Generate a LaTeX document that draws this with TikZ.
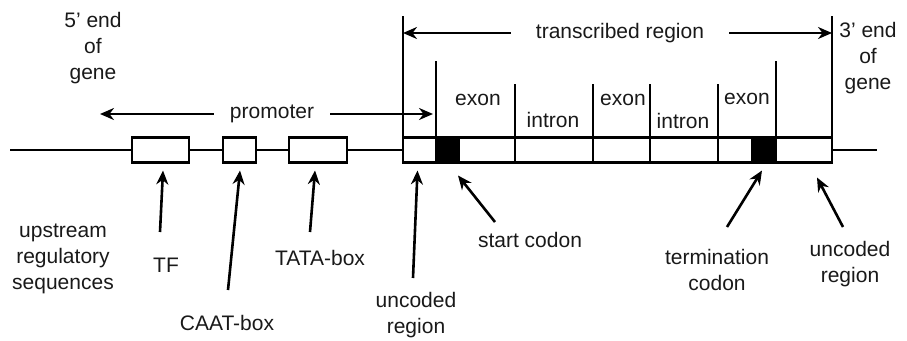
\documentclass[tikz,border=0pt]{standalone}
\usepackage{fontspec}
\setmainfont{Liberation Sans}
\usepackage{tikz}
\usetikzlibrary{arrows.meta, positioning}
\tikzstyle{element} = [rectangle, draw=black, fill=white, line width=2.4pt, minimum height=25pt, inner sep=0pt, outer sep=0pt]
\tikzstyle{txt} = [align=center, inner sep=0pt, text=black!90]
\tikzstyle{strand} = [line width=2.4pt]
\tikzstyle{pointer} = [line width=2.6pt, -{Stealth[length=14pt,width=12pt]}]

\begin{document}
\begin{tikzpicture}[x=1pt, y=-1pt, font=\fontsize{21}{26}\selectfont]
        \useasboundingbox (0,0) rectangle (907,340);

        % DNA strand
        \coordinate (strandleft) at (10,150);
        \coordinate (strandright) at (877,150);
        \draw [strand] (strandleft) -- (strandright);

        % promoter elements
        \node (tfbox) [element, minimum width=57pt] at (160.5,150) {};
        \node (caatbox) [element, minimum width=33pt] at (239.5,150) {};
        \node (tatabox) [element, minimum width=58pt] at (318,150) {};

        % transcribed region
        \foreach \n/\xa/\xb/\c in {u1/403/436/white, start/436/459/black, e1/459/515/white,
                i1/515/593/white, e2/593/650/white, i2/650/718/white, e3/718/752/white,
                stop/752/776/black, u2/776/832/white}
            \node (\n) [element, fill=\c, minimum width={(\xb-\xa)*1pt}] at ({(\xa+\xb)/2},150) {};

        \foreach \p/\h in {u1.north west/122, start.north west/77, i1.north west/54,
                e2.north west/54, i2.north west/54, e3.north west/54, u2.north west/77, u2.north east/122}
            \draw [strand] (\p) -- ++(0,-\h);

        \node (exon1) [txt] at (478,100) {exon};
        \node (intron1) [txt] at (553,120) {intron};
        \node (exon2) [txt] at (623,100) {exon};
        \node (intron2) [txt] at (683,121) {intron};
        \node (exon3) [txt] at (747,99) {exon};

        % spans
        \node (transcribed) [txt, inner xsep=25pt] at (620,33) {transcribed region};
        \draw [pointer] (transcribed.west) -- (transcribed.west -| u1.north west);
        \draw [pointer] (transcribed.east) -- (transcribed.east -| u2.north east);

        \node (promoter) [txt, inner xsep=16pt] at (272,114) {promoter};
        \coordinate (promleft) at (100,114);
        \draw [pointer] (promoter.west) -- (promleft);
        \draw [pointer] (promoter.east) -- ([xshift=-3pt]promoter.east -| start.north west);

        \node (fiveend) [txt] at (93,48) {5' end\\of\\gene};
        \node (threeend) [txt] at (868,58) {3' end\\of\\gene};

        % labels below
        \node (upstream) [txt] at (63,259) {upstream\\regulatory\\sequences};
        \node (tf) [txt] at (166,265) {TF};
        \node (caat) [txt] at (227,323) {CAAT-box};
        \node (tata) [txt] at (320,258) {TATA-box};
        \node (uncodedleft) [txt] at (416,315) {uncoded\\region};
        \node (startcodon) [txt] at (530,240) {start codon};
        \node (termination) [txt] at (717,270) {termination\\codon};
        \node (uncodedright) [txt] at (850,264) {uncoded\\region};

        \coordinate (tftail) at (160,232);
        \coordinate (caattail) at (228,290);
        \coordinate (tatatail) at (310,232);
        \coordinate (ultail) at (413,278);
        \coordinate (starttail) at (495,222);
        \coordinate (stoptail) at (727,227);
        \coordinate (urtail) at (843,227);

        \draw [pointer] (tftail) -- ([shift={(2.5,8)}]tfbox.south);
        \draw [pointer] (caattail) -- ([shift={(0.5,8)}]caatbox.south);
        \draw [pointer] (tatatail) -- ([shift={(-3,8)}]tatabox.south);
        \draw [pointer] (ultail) -- ([shift={(-2,8)}]u1.south);
        \draw [pointer] (starttail) -- ([shift={(-1,13)}]start.south east);
        \draw [pointer] (stoptail) -- ([shift={(-2,8)}]stop.south);
        \draw [pointer] (urtail) -- ([shift={(13,15)}]u2.south);
    \end{tikzpicture}
\end{document}
